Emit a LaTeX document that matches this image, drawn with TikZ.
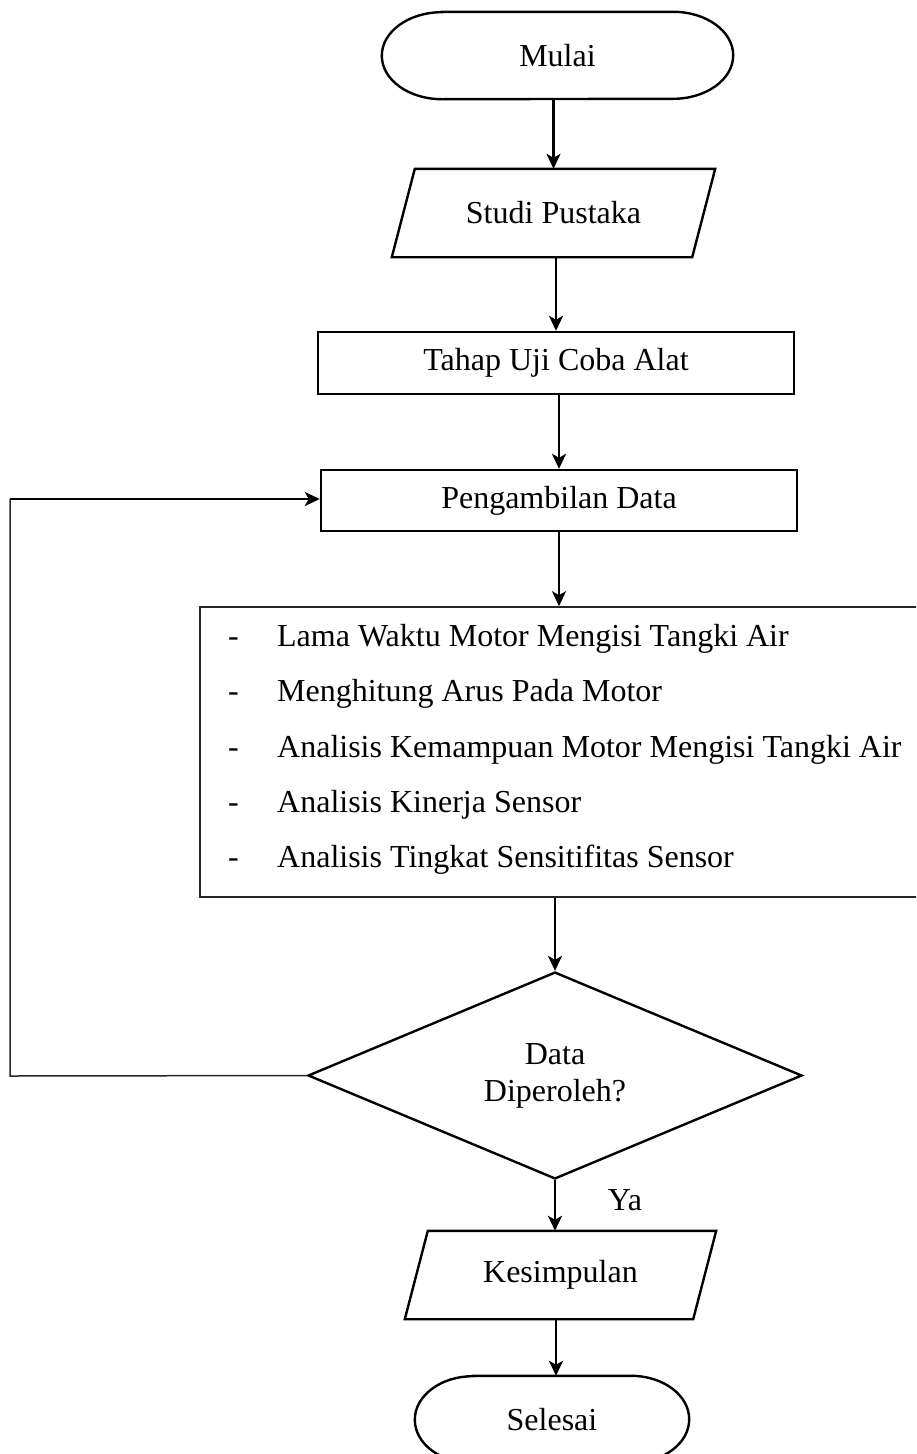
\documentclass[tikz,border=0pt]{standalone}
\usepackage{fontspec}
\setmainfont{Liberation Serif}
\usetikzlibrary{shapes.geometric,arrows.meta}
\begin{document}
\begin{tikzpicture}[x=1pt,y=-1pt,
  font=\fontsize{32}{37}\selectfont,
  shapeline/.style={line width=2.4pt,line join=miter},
  arr/.style={line width=2.4pt,-{Stealth[length=15pt,width=14pt,inset=4pt]}},
  loopline/.style={line width=1.5pt,black!85},
  termbox/.style={rectangle,inner sep=0pt},
  procbox/.style={draw,line width=2.4pt,rectangle,inner sep=0pt},
  listbox/.style={draw,line width=1.6pt,black!85,rectangle,inner sep=0pt},
  iobox/.style={rectangle,inner sep=0pt,minimum height=88pt},
  decision/.style={draw,line width=2.4pt,diamond,inner sep=0pt,align=center},
  itemtext/.style={anchor=base west,inner sep=0pt}
]
\useasboundingbox (0,0) rectangle (916,1454);
\clip (0,0) rectangle (916,1454);

% Mulai
\node[termbox,minimum width=351pt,minimum height=87pt] (mulai) at (557.5,55.5) {Mulai};
\draw[shapeline] ([xshift=60pt]mulai.north west) -- ([xshift=-60pt]mulai.north east)
  arc[start angle=90,end angle=-90,x radius=60pt,y radius=43.5pt]
  -- ([xshift=60pt]mulai.south west)
  arc[start angle=270,end angle=90,x radius=60pt,y radius=43.5pt] -- cycle;

% Studi Pustaka
\node[iobox,minimum width=300pt] (studi) at (553.5,213) {Studi Pustaka};
\draw[shapeline] ([xshift=11.5pt]studi.north west) -- ([xshift=11.5pt]studi.north east)
  -- ([xshift=-11.5pt]studi.south east) -- ([xshift=-11.5pt]studi.south west) -- cycle;

% Tahap Uji Coba Alat
\node[procbox,minimum width=476pt,minimum height=62pt] (tahap) at (556,363) {Tahap Uji Coba Alat};

% Pengambilan Data
\node[procbox,minimum width=476pt,minimum height=61pt] (peng) at (559,500.5) {Pengambilan Data};

% List box
\node[listbox,minimum width=740pt,minimum height=290pt] (list) at (570,752) {};
\node[itemtext] (item1) at (228,646) {\makebox[49pt][l]{-}Lama Waktu Motor Mengisi Tangki Air};
\node[itemtext] (item2) at (228,701) {\makebox[49pt][l]{-}Menghitung Arus Pada Motor};
\node[itemtext] (item3) at (228,757) {\makebox[49pt][l]{-}Analisis Kemampuan Motor Mengisi Tangki Air};
\node[itemtext] (item4) at (228,812) {\makebox[49pt][l]{-}Analisis Kinerja Sensor};
\node[itemtext] (item5) at (228,867) {\makebox[49pt][l]{-}Analisis Tingkat Sensitifitas Sensor};

% Decision
\node[decision,minimum width=494pt,minimum height=203pt] (dia) at (555,1075.5) {Data\\Diperoleh?};

% Kesimpulan
\node[iobox,minimum width=288pt] (kes) at (560.5,1275) {Kesimpulan};
\draw[shapeline] ([xshift=11.5pt]kes.north west) -- ([xshift=11.5pt]kes.north east)
  -- ([xshift=-11.5pt]kes.south east) -- ([xshift=-11.5pt]kes.south west) -- cycle;

% Selesai
\node[termbox,minimum width=274pt,minimum height=87pt] (sel) at (552,1419.5) {Selesai};
\draw[shapeline] ([xshift=58pt]sel.north west) -- ([xshift=-58pt]sel.north east)
  arc[start angle=90,end angle=-90,x radius=58pt,y radius=43.5pt]
  -- ([xshift=58pt]sel.south west)
  arc[start angle=270,end angle=90,x radius=58pt,y radius=43.5pt] -- cycle;

% Ya label
\node (ya) at (625,1200) {Ya};

% Connectors
\draw[arr] (mulai.south -| studi.north) -- (studi.north);
\draw[arr] (studi.south -| tahap.north) -- (tahap.north);
\draw[arr] (tahap.south -| peng.north) -- (peng.north);
\draw[arr] (peng.south) -- (peng.south |- list.north);
\draw[arr] (list.south -| dia.north) -- (dia.north);
\draw[arr] (dia.south) -- (dia.south |- kes.north);
\draw[arr] ([xshift=-4.5pt]kes.south) -- ([xshift=-4.5pt]kes.south |- sel.north);

% Loop back
\coordinate (lb) at (10,1076);
\coordinate (lt) at (10,499);
\draw[loopline] (dia.west) -- (lb) -- (lt);
\draw[arr] (lt) -- (lt -| peng.west);
\end{tikzpicture}
\end{document}
